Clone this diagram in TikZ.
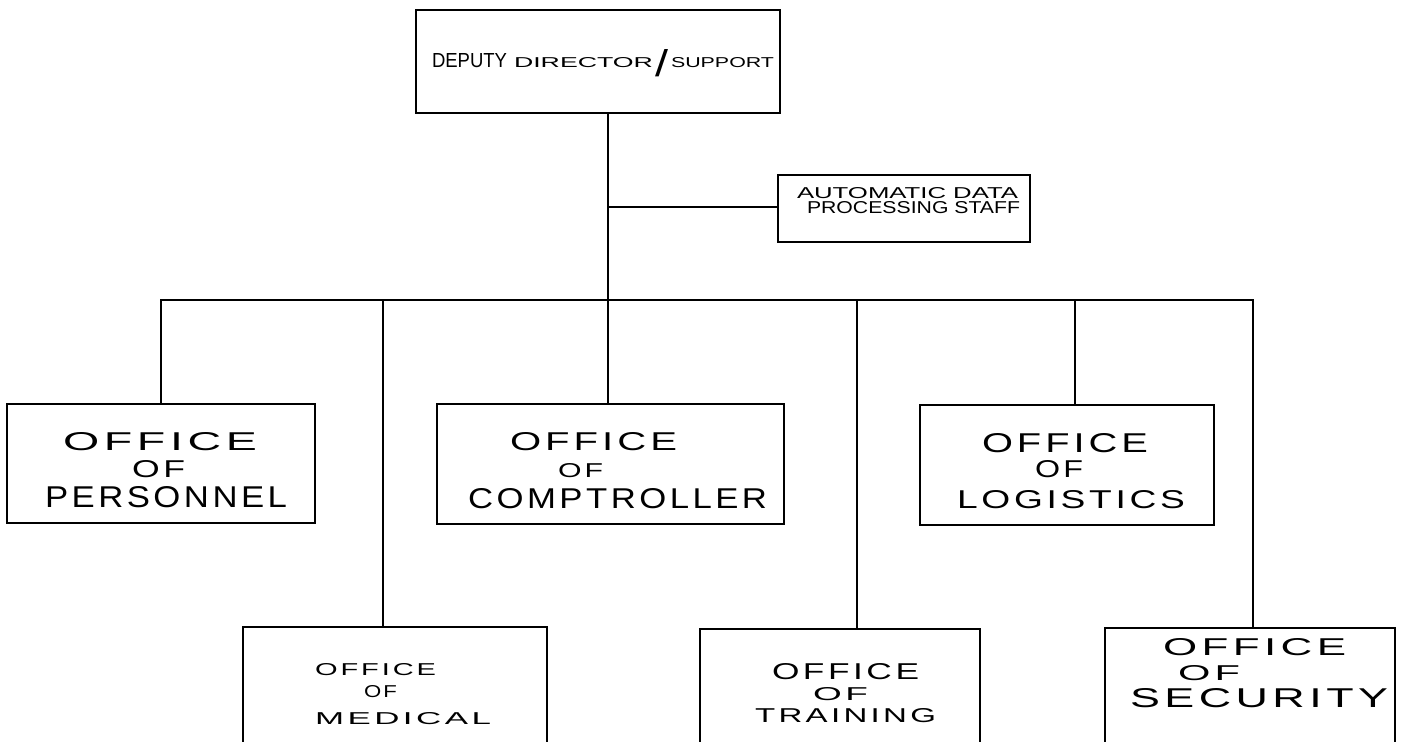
\documentclass[tikz,border=0pt]{standalone}
\usepackage{fontspec}
\setmainfont{Liberation Sans}
\usepackage{graphicx}
\newlength\pxu
\setlength\pxu{0.5pt}
\def\lspc#1{\ifx\relax#1\else#1\kern.1em\expandafter\lspc\fi}
\newcommand\hw[3]{\resizebox{#1\pxu}{#2\pxu}{#3}}
\newcommand\hl[3]{\resizebox{#1\pxu}{#2\pxu}{\lspc#3\relax\unkern}}
\begin{document}
\begin{tikzpicture}[x=0.5pt,y=-0.5pt,
  box/.style={draw, line width=1.3pt, rectangle, inner sep=0pt},
  wire/.style={line width=0.9pt},
  lab/.style={anchor=base west, inner sep=0pt, outer sep=0pt}]
\useasboundingbox (0,0) rectangle (1406,742);
\begin{scope}
\clip (0,0) rectangle (1406,742);
% boxes
\node[box, minimum width=364\pxu, minimum height=103\pxu] (dd) at (598,61.5) {};
\node[box, minimum width=252\pxu, minimum height=67\pxu] (adp) at (904,208.5) {};
\node[box, minimum width=308\pxu, minimum height=119\pxu] (pers) at (161,463.5) {};
\node[box, minimum width=347\pxu, minimum height=120\pxu] (comp) at (610.5,464) {};
\node[box, minimum width=294\pxu, minimum height=120\pxu] (logi) at (1067,465) {};
\node[box, minimum width=304\pxu, minimum height=173\pxu] (med) at (395,713.5) {};
\node[box, minimum width=280\pxu, minimum height=173\pxu] (trai) at (840,715.5) {};
\node[box, minimum width=290\pxu, minimum height=173\pxu] (secu) at (1250,714.5) {};
% labels
\node[lab] (dd1) at (432,68) {\hw{75}{14}{DEPUTY}\kern7\pxu\hw{139}{10}{DIRECTOR}\kern2\pxu\raisebox{-9\pxu}{\hw{13}{27}{/}}\kern3\pxu\hw{103}{10}{SUPPORT}};
\node[lab] (adp1) at (797,199) {\hw{221}{11}{AUTOMATIC DATA}};
\node[lab] (adp2) at (807,214) {\hw{213}{12}{PROCESSING STAFF}};
\node[lab] (pers1) at (63,450) {\hl{194}{18}{OFFICE}};
\node[lab] (pers2) at (132,477) {\hl{53}{17}{OF}};
\node[lab] (pers3) at (45,508) {\hl{242}{21}{PERSONNEL}};
\node[lab] (comp1) at (510,450) {\hl{167}{18}{OFFICE}};
\node[lab] (comp2) at (558,477) {\hl{45}{14}{OF}};
\node[lab] (comp3) at (468,508) {\hl{299}{20}{COMPTROLLER}};
\node[lab] (logi1) at (982,452) {\hl{166}{19}{OFFICE}};
\node[lab] (logi2) at (1035,477) {\hl{48}{17}{OF}};
\node[lab] (logi3) at (957,508) {\hl{228}{18}{LOGISTICS}};
\node[lab] (med1) at (315,675) {\hl{121}{12}{OFFICE}};
\node[lab] (med2) at (364,697) {\hl{33}{12}{OF}};
\node[lab] (med3) at (315,724) {\hl{176}{12}{MEDICAL}};
\node[lab] (trai1) at (772,679) {\hl{147}{16}{OFFICE}};
\node[lab] (trai2) at (813,700) {\hl{55}{13}{OF}};
\node[lab] (trai3) at (755,722) {\hl{181}{14}{TRAINING}};
\node[lab] (secu1) at (1163,655) {\hl{183}{17}{OFFICE}};
\node[lab] (secu2) at (1178,680) {\hl{62}{15}{OF}};
\node[lab] (secu3) at (1130,707) {\hl{258}{19}{SECURITY}};
% connectors
\coordinate (jadp) at (608,207);
\coordinate (jbus) at (608,300);
\coordinate (bmed) at (383,300);
\coordinate (btra) at (857,300);
\coordinate (blog) at (1075,300);
\coordinate (bsec) at (1253,300);
\draw[wire] (dd.south -| jbus) -- (comp.north -| jbus);
\draw[wire] (jadp) -- (jadp -| adp.west);
\draw[wire] (pers.north) |- (bsec) -- (bsec |- secu.north);
\draw[wire] (bmed) -- (bmed |- med.north);
\draw[wire] (btra) -- (btra |- trai.north);
\draw[wire] (blog) -- (blog |- logi.north);
\end{scope}
\end{tikzpicture}
\end{document}
